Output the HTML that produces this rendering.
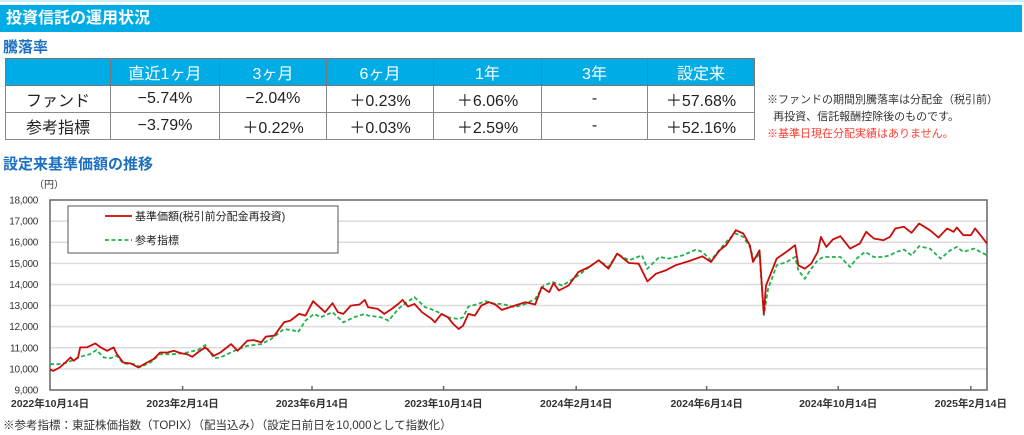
<!DOCTYPE html>
<html><head><meta charset="utf-8">
<style>
body{margin:0;width:1024px;height:435px;background:#fff;overflow:hidden;font-family:"Liberation Sans","Noto Sans CJK JP",sans-serif;position:relative}
.abs{position:absolute}
#topline{left:0;top:0;width:1024px;height:2px;background:#cdeefa}
#hdr{left:0;top:5px;width:1022px;height:27px;background:#00ace6;color:#fff;font-weight:bold;font-size:16px;line-height:27px;padding-left:6px;box-sizing:border-box}
.sec{color:#1d6fc0;font-weight:bold;font-size:15px}
table{border-collapse:collapse;position:absolute;left:5px;top:58px}
td,th{border:1px solid #888;text-align:center;font-size:16px;padding:0;height:26px;font-weight:normal;color:#222}
th{background:#00ace6;color:#fff;border-color:#777}
.note{font-size:11px;color:#333;line-height:17px}
</style></head><body>
<div class="abs" id="topline"></div>
<div class="abs" id="hdr">投資信託の運用状況</div>
<div class="abs sec" style="left:3px;top:36px">騰落率</div>
<table>
<tr><th style="width:104px"></th><th style="width:108px">直近1ヶ月</th><th style="width:106px">3ヶ月</th><th style="width:106px">6ヶ月</th><th style="width:107px">1年</th><th style="width:105px">3年</th><th style="width:106px">設定来</th></tr>
<tr><td>ファンド</td><td>−5.74%</td><td>−2.04%</td><td>＋0.23%</td><td>＋6.06%</td><td>-</td><td>＋57.68%</td></tr>
<tr><td>参考指標</td><td>−3.79%</td><td>＋0.22%</td><td>＋0.03%</td><td>＋2.59%</td><td>-</td><td>＋52.16%</td></tr>
</table>
<div class="abs note" style="left:767px;top:92px">※ファンドの期間別騰落率は分配金（税引前）<br>&nbsp;&nbsp;再投資、信託報酬控除後のものです。<br><span style="color:#ff3b30">※基準日現在分配実績はありません。</span></div>
<div class="abs sec" style="left:3px;top:153px">設定来基準価額の推移</div>
<svg class="abs" style="left:0;top:0" width="1024" height="435" id="chart"></svg>
<div class="abs note" style="left:3px;top:418px;font-size:11.5px">※参考指標：東証株価指数（TOPIX）（配当込み）（設定日前日を10,000として指数化）</div>
<script>
const fundDays=[0,3,9,16,19,22,26,28,34,42,47,53,59,62,68,75,82,90,96,102,109,115,121,127,132,137,144,152,158,168,174,183,189,196,200,208,217,223,231,237,244,250,255,262,267,272,279,287,292,295,304,310,317,323,327,332,338,345,354,357,363,369,374,379,383,388,394,400,407,413,419,431,441,450,456,463,467,472,481,490,500,509,518,526,537,546,554,562,571,580,593,605,613,621,627,636,643,649,652,658,662,664,674,683,691,694,700,706,712,715,720,726,733,742,751,757,764,773,779,784,792,799,806,816,824,832,838,841,847,854,858,863,869];
const fundValues=[9980,9905,10064,10381,10540,10381,10540,11016,11016,11206,11016,10857,11016,10698,10302,10254,10064,10302,10460,10778,10778,10857,10746,10698,10571,10778,11016,10619,10778,11175,10857,11333,11365,11254,11524,11571,12206,12286,12603,12524,13206,12921,12683,13111,12683,12603,13000,13048,13270,12921,12841,12603,12841,13079,13270,12952,13079,12683,12365,12206,12603,12444,12127,11889,12048,12603,12524,13000,13159,13048,12794,13000,13159,13048,13873,13635,14063,13714,13952,14587,14825,15143,14746,15460,15016,14984,14143,14508,14667,14905,15111,15333,15063,15619,15857,16571,16413,15857,15063,15619,12603,13952,15222,15540,15857,14905,14746,14984,15540,16254,15778,16127,16286,15698,15937,16492,16175,16095,16254,16651,16730,16444,16889,16571,16222,16651,16492,16698,16333,16333,16651,16333,15937];
const benchDays=[0,8,16,28,37,43,50,56,62,68,78,84,93,102,115,127,137,144,152,158,171,183,196,205,217,227,230,237,245,251,262,272,282,292,295,307,314,323,329,338,348,357,363,369,379,383,388,397,404,413,419,431,441,450,458,466,475,483,490,500,509,518,526,537,549,554,565,574,587,599,605,613,621,630,636,643,649,653,658,662,666,674,683,691,694,700,706,712,717,726,733,742,748,756,764,773,779,785,792,799,806,816,826,835,841,847,857,863,869];
const benchValues=[10222,10222,10302,10571,10698,10889,10540,10508,10619,10254,10222,10095,10302,10698,10698,10778,10889,11127,10508,10540,10857,11095,11175,11413,11889,11810,11730,12286,12603,12444,12683,12206,12444,12603,12524,12444,12286,12841,13079,13397,12921,12762,12603,12444,12365,12444,12952,13079,13206,13079,13079,12921,13079,13317,13952,14111,13952,14190,14429,14825,15143,14825,15460,15143,15381,14746,15302,15222,15381,15651,15540,15143,15651,16175,16413,16254,15778,15143,15460,12524,13794,14905,15063,15302,14667,14270,14746,15143,15302,15302,15302,14825,15222,15540,15302,15302,15381,15540,15651,15381,15810,15698,15222,15619,15778,15540,15698,15540,15381];
const yTicks=[9000,10000,11000,12000,13000,14000,15000,16000,17000,18000];
const xTickDays=[0,123,243,365,488,609,731,854];
const xTickLabels=["2022年10月14日","2023年2月14日","2023年6月14日","2023年10月14日","2024年2月14日","2024年6月14日","2024年10月14日","2025年2月14日"];
const L=50,R=987,T=200,B=390,D0=0,D1=869,V0=9000,V1=18000;
const xs=d=>L+(d-D0)/(D1-D0)*(R-L);
const ys=v=>B-(v-V0)/(V1-V0)*(B-T);
const svg=document.getElementById('chart');
const NS='http://www.w3.org/2000/svg';
function mk(tag,attrs,parent){const e=document.createElementNS(NS,tag);for(const k in attrs)e.setAttribute(k,attrs[k]);(parent||svg).appendChild(e);return e;}
yTicks.forEach(v=>{
 if(v>V0&&v<V1){const g=mk('line',{x1:L,x2:R,y1:ys(v),y2:ys(v),stroke:'#dcdcdc','stroke-width':1.5});
 
 }
 const t=mk('text',{x:38,y:ys(v)+3.5,'text-anchor':'end','font-size':'10','fill':'#333','letter-spacing':'-0.3'});
 t.textContent=v.toLocaleString('en-US');
 
 
});
const yu=mk('text',{x:34,y:188,'font-size':'10','fill':'#333'});yu.textContent='（円）';


const frame=mk('rect',{x:L,y:T,width:R-L,height:B-T,fill:'none',stroke:'#666','stroke-width':1.5});


xTickDays.forEach((d,i)=>{
 if(i>0){const tk=mk('line',{x1:xs(d),x2:xs(d),y1:B,y2:B-4,stroke:'#666','stroke-width':1.5});
 
 }
 const t=mk('text',{x:xs(d),y:407,'text-anchor':'middle','font-size':'10.5','font-weight':'bold','fill':'#333'});
 t.textContent=xTickLabels[i];
 
 
});
function pts(days,vals){return days.map((d,i)=>xs(d).toFixed(1)+','+ys(vals[i]).toFixed(1)).join(' ');}
const bl=mk('polyline',{points:pts(benchDays,benchValues),fill:'none',stroke:'#22b14c','stroke-width':1.8,'stroke-dasharray':'4,2.5'});


const fl=mk('polyline',{points:pts(fundDays,fundValues),fill:'none',stroke:'#cc0a0a','stroke-width':1.8,'stroke-linejoin':'round'});


const lg=mk('g',{});


mk('rect',{x:68,y:206,width:270,height:47,fill:'#fff',stroke:'#555','stroke-width':1},lg);
mk('line',{x1:105,x2:132,y1:216,y2:216,stroke:'#cc0a0a','stroke-width':1.8},lg);
mk('line',{x1:105,x2:132,y1:240,y2:240,stroke:'#22b14c','stroke-width':1.8,'stroke-dasharray':'4,2.5'},lg);
const l1=mk('text',{x:135,y:220,'font-size':'11','fill':'#222'},lg);l1.textContent='基準価額(税引前分配金再投資)';


const l2=mk('text',{x:135,y:244,'font-size':'11','fill':'#222'},lg);l2.textContent='参考指標';


</script>
</body></html>
